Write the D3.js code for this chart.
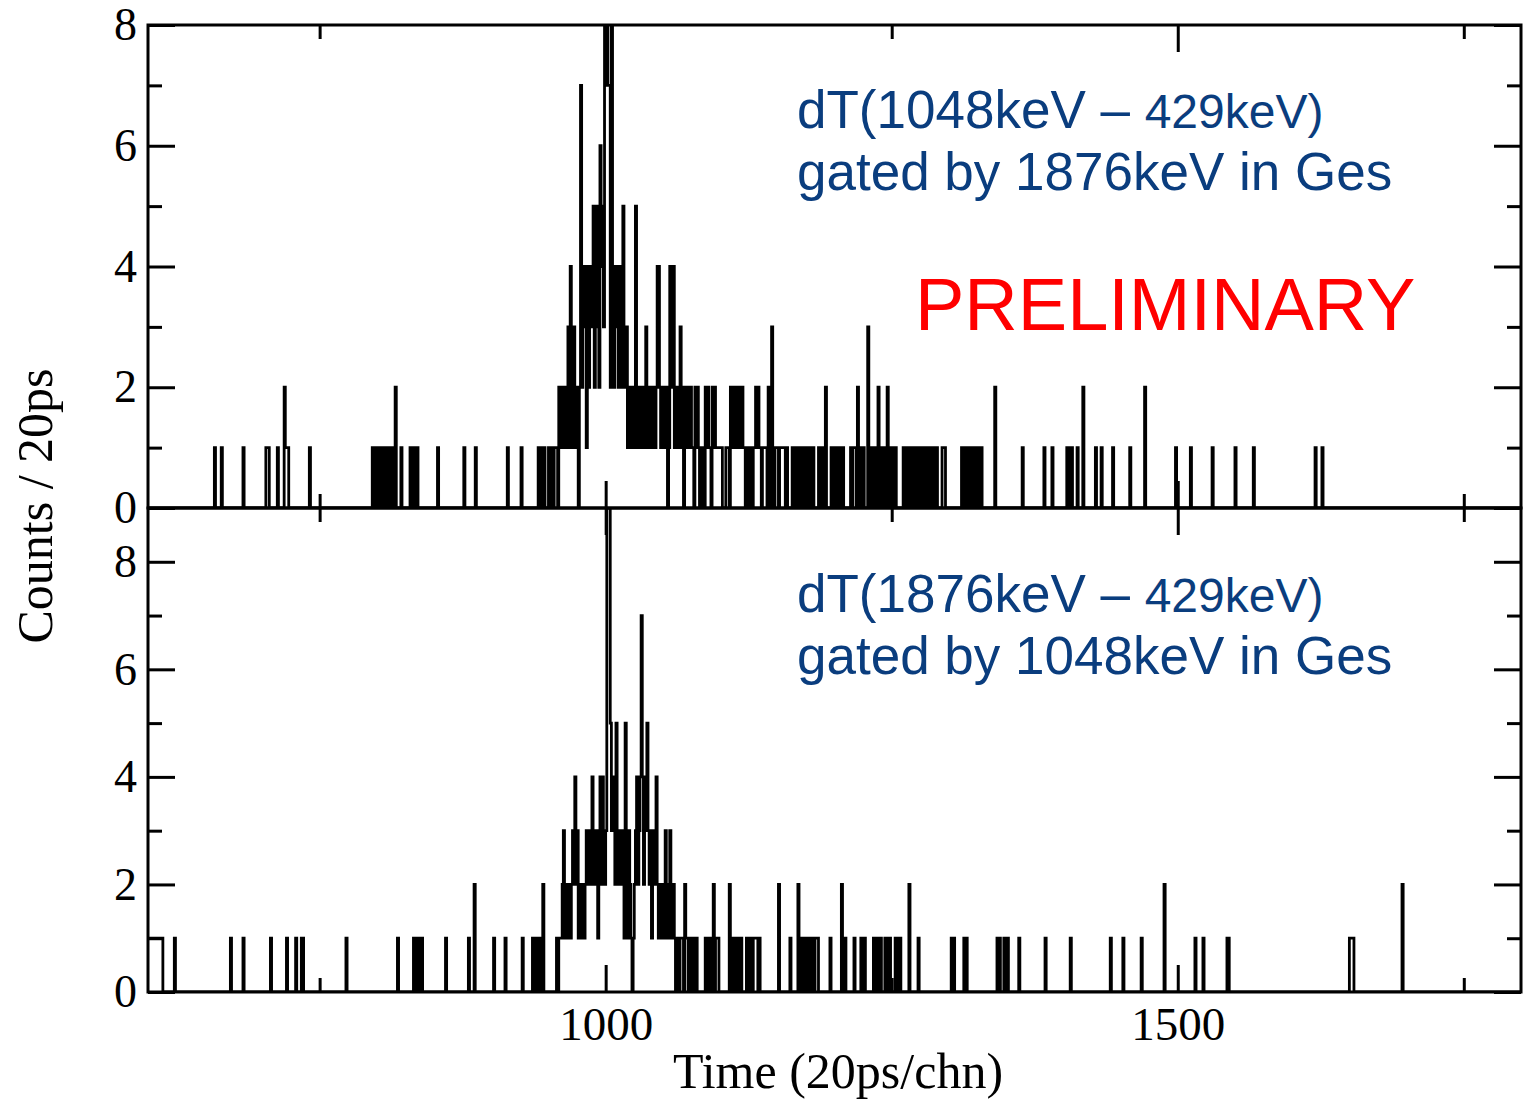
<!DOCTYPE html>
<html><head><meta charset="utf-8">
<script src="https://cdn.jsdelivr.net/npm/d3@7"></script>
<style>body{margin:0;background:#fff}</style>
</head><body>
<svg id="chart" width="1523" height="1100"></svg>
<script>
// ---------------- DATA ----------------
const xDomain = [600, 1800];
const topYDomain = [0, 8];
const bottomYDomain = [0, 9];
const xMajorTicks = [1000, 1500];
const xMinorTicks = [750, 1250, 1750];
const yMajorTicks = [0, 2, 4, 6, 8];
const yMinorTicks = [1, 3, 5, 7];

// Top panel: dT(1048keV - 429keV) gated by 1876keV — dense peak region from channel 943
const topPeakStart = 943;
const topPeakCounts = [
  1,1,0,1,0,0,0,1,0,1,
  1,0,1,1,1,0,2,1,2,1,
  2,1,2,1,3,1,4,2,1,3,
  2,1,2,0,2,7,2,4,3,4,
  1,4,2,3,4,3,5,2,5,3,
  5,2,6,4,5,3,9,7,9,7,
  7,2,9,4,2,4,3,4,2,4,
  3,2,5,2,3,3,1,2,1,2,
  1,2,1,5,2,1,2,1,2,1,
  2,1,3,2,1,2,1,2,1,2,
  1,2,4,4,2,1,2,1,2,1,
  2,0,1,4,4,2,4,1,2,1,
  2,1,3,1,2,0,2,1,2,1,
  1,2,1,1,0,2,1,2,1,0,1,1
];
// Top panel: isolated channels [channel, counts]
const topOther = [
  [658,1],[664,1],[683,1],[703,1],[704,1],[705,1],[713,1],[719,2],[720,1],[721,1],[722,1],[741,1],
  [796,1],[797,1],[799,1],[800,1],[802,1],[804,1],[805,1],[807,1],[809,1],[810,1],[812,1],[813,1],
  [815,1],[816,2],[821,1],[829,1],[830,1],[832,1],[834,1],[835,1],[853,1],[876,1],[886,1],[914,1],[926,1],[941,1],
  [1087,2],[1088,1],[1089,2],[1090,1],[1091,1],[1093,2],[1094,1],[1095,2],[1096,1],[1097,1],[1098,1],[1099,1],
  [1100,1],[1101,1],[1105,1],[1106,1],[1107,1],[1109,2],[1110,1],[1111,2],[1112,1],[1113,2],[1114,1],[1115,2],
  [1116,1],[1117,2],[1118,1],[1119,2],[1120,1],[1121,1],[1124,1],[1126,1],[1127,1],[1129,1],[1130,1],[1131,2],
  [1132,1],[1133,2],[1134,1],[1135,1],[1137,1],[1138,1],[1139,1],[1140,1],[1142,2],[1143,1],[1145,3],[1146,1],
  [1148,1],[1149,1],[1150,1],[1152,1],[1153,1],[1154,1],[1155,1],[1156,1],[1158,1],
  [1163,1],[1165,1],[1166,1],[1168,1],[1170,1],[1172,1],[1173,1],[1175,1],[1177,1],[1179,1],[1181,1],
  [1186,1],[1187,1],[1189,1],[1190,1],[1192,2],[1197,1],[1199,1],[1200,1],[1202,1],[1204,1],[1205,1],[1207,1],
  [1214,1],[1216,1],[1217,1],[1218,1],[1220,2],[1222,1],[1223,1],[1225,1],[1229,3],[1231,1],[1233,1],[1234,1],
  [1236,1],[1238,2],[1240,1],[1241,1],[1243,1],[1246,2],[1248,1],[1249,1],[1251,1],[1253,1],
  [1260,1],[1261,1],[1263,1],[1265,1],[1266,1],[1268,1],[1270,1],[1272,1],[1273,1],[1275,1],[1277,1],[1279,1],
  [1280,1],[1282,1],[1284,1],[1286,1],[1287,1],[1289,1],[1294,1],[1295,1],[1296,1],
  [1311,1],[1313,1],[1314,1],[1316,1],[1318,1],[1320,1],[1321,1],[1323,1],[1325,1],[1327,1],[1328,1],[1340,2],
  [1364,1],[1383,1],[1390,1],[1403,1],[1405,1],[1407,1],[1412,1],[1417,2],[1428,1],[1433,1],[1443,1],[1458,1],
  [1471,2],[1498,1],[1511,1],[1530,1],[1550,1],[1566,1],[1620,1],[1626,1]
];

// Bottom panel: dT(1876keV - 429keV) gated by 1048keV — dense peak region from channel 955
const bottomPeakStart = 955;
const bottomPeakCounts = [
  0,0,1,0,1,1,1,2,3,1,
  2,1,2,2,1,2,3,2,4,2,
  3,1,2,1,1,2,1,2,3,2,
  3,2,3,4,2,3,2,3,1,3,
  4,2,4,3,2,3,10,9,10,5,
  3,4,3,2,5,3,2,3,3,2,
  3,1,5,3,1,3,2,1,0,1,
  2,3,4,2,3,4,7,4,2,4,
  3,5,3,2,3,1,3,2,3,4,
  2,1,2,1,2,1,2,3,1,2,
  1,3,2,1,2,1,0,1,1,0,
  1,1,1,0,2,1,1,0,1,0,
  1,1,0,0,1,0
];
const bottomOther = [
  [600,1],[601,1],[602,1],[603,1],[604,1],[605,1],[606,1],[607,1],[608,1],[609,1],[610,1],[611,1],[612,1],
  [623,1],[672,1],[683,1],[707,1],[721,1],[729,1],[734,1],[735,1],[773,1],[818,1],[832,1],[834,1],[835,1],
  [837,1],[839,1],[860,1],[880,1],[885,2],[902,1],[912,1],[927,1],[936,1],[938,1],[940,1],[942,1],[943,1],[945,2],
  [1087,1],[1089,1],[1091,1],[1094,2],[1096,1],[1097,1],[1098,1],[1108,2],[1110,1],[1112,1],[1113,1],[1115,1],
  [1117,1],[1118,1],[1123,1],[1124,1],[1126,1],[1127,1],[1129,1],[1130,1],[1131,1],[1132,1],[1134,1],[1151,2],
  [1161,1],[1168,2],[1171,1],[1172,1],[1174,1],[1175,1],[1177,1],[1178,1],[1180,1],[1181,1],[1183,1],[1184,1],
  [1185,1],[1196,1],[1206,2],[1208,1],[1209,1],[1217,1],[1223,1],[1224,1],[1226,1],[1234,1],[1236,1],[1237,1],
  [1239,1],[1240,1],[1244,1],[1245,1],[1247,1],[1248,1],[1253,1],[1254,1],[1256,1],[1257,1],[1265,2],[1273,1],
  [1302,1],[1304,1],[1313,1],[1315,1],[1342,1],[1344,1],[1348,1],[1349,1],[1351,1],[1361,1],[1384,1],[1406,1],
  [1441,1],[1452,1],[1468,1],[1488,2],[1515,1],[1522,1],[1543,1],[1544,1],[1650,1],[1651,1],[1652,1],[1653,1],[1696,2]
];

const xTitle = "Time (20ps/chn)";
const yTitle = "Counts / 20ps";

// ---------------- DRAW ----------------
const svg = d3.select("#chart");
const L = 148, R = 1521, T = 25, MID = 508, B = 992;
const x = d3.scaleLinear().domain(xDomain).range([L, R]);
const serif = "'Liberation Serif','Times New Roman',Times,serif";
const sans = "'Liberation Sans',Arial,Helvetica,sans-serif";
const MAJ = 27, MIN = 14;

function buildSeries(start, dense, sparse) {
  const m = new Map(sparse.map(d => [d[0], d[1]]));
  dense.forEach((v, i) => m.set(start + i, v));
  const pts = [];
  for (let c = xDomain[0]; c < xDomain[1]; c++) pts.push([c, m.get(c) || 0]);
  pts.push([xDomain[1], pts[pts.length - 1][1]]);
  return pts;
}

function styleAxis(g) {
  g.select(".domain").remove();
  g.selectAll(".tick line").attr("stroke", "#000").attr("stroke-width", 3);
  g.selectAll(".tick text").attr("fill", "#000").style("font-family", serif).style("font-size", "46px");
}

function panel(id, yDomain, top, bottom, series, opts) {
  const y = d3.scaleLinear().domain(yDomain).range([bottom, top]);
  svg.append("clipPath").attr("id", "clip-" + id)
    .append("rect").attr("x", L).attr("y", top).attr("width", R - L).attr("height", bottom - top);
  const line = d3.line().x(d => x(d[0])).y(d => y(d[1])).curve(d3.curveStepAfter);
  svg.append("path").datum(series)
    .attr("clip-path", `url(#clip-${id})`)
    .attr("d", line).attr("fill", "none").attr("stroke", "#000").attr("stroke-width", 2.8);

  // y axes (inward ticks)
  svg.append("g").attr("transform", `translate(${L},0)`)
    .call(d3.axisLeft(y).tickValues(yMajorTicks).tickSize(-MAJ).tickPadding(11).tickFormat(d3.format("d")))
    .call(styleAxis);
  svg.append("g").attr("transform", `translate(${L},0)`)
    .call(d3.axisLeft(y).tickValues(yMinorTicks).tickSize(-MIN).tickFormat(""))
    .call(styleAxis);
  svg.append("g").attr("transform", `translate(${R},0)`)
    .call(d3.axisRight(y).tickValues(yMajorTicks).tickSize(-MAJ).tickFormat(""))
    .call(styleAxis);
  svg.append("g").attr("transform", `translate(${R},0)`)
    .call(d3.axisRight(y).tickValues(yMinorTicks).tickSize(-MIN).tickFormat(""))
    .call(styleAxis);

  // x axes (inward ticks)
  svg.append("g").attr("transform", `translate(0,${top})`)
    .call(d3.axisTop(x).tickValues(xMajorTicks).tickSize(-MAJ).tickFormat(""))
    .call(styleAxis);
  svg.append("g").attr("transform", `translate(0,${top})`)
    .call(d3.axisTop(x).tickValues(xMinorTicks).tickSize(-MIN).tickFormat(""))
    .call(styleAxis);
  svg.append("g").attr("transform", `translate(0,${bottom})`)
    .call(d3.axisBottom(x).tickValues(xMajorTicks).tickSize(-MAJ).tickPadding(15)
      .tickFormat(opts.xLabels ? d3.format("d") : ""))
    .call(styleAxis)
    .call(g => g.selectAll(".tick text").style("font-size", "47px"));
  svg.append("g").attr("transform", `translate(0,${bottom})`)
    .call(d3.axisBottom(x).tickValues(xMinorTicks).tickSize(-MIN).tickFormat(""))
    .call(styleAxis);

  // frame
  svg.append("rect").attr("x", L).attr("y", top).attr("width", R - L).attr("height", bottom - top)
    .attr("fill", "none").attr("stroke", "#000").attr("stroke-width", 3);
}

panel("top", topYDomain, T, MID, buildSeries(topPeakStart, topPeakCounts, topOther), { xLabels: false });
panel("bot", bottomYDomain, MID, B, buildSeries(bottomPeakStart, bottomPeakCounts, bottomOther), { xLabels: true });

// axis titles
svg.append("text").attr("x", 838).attr("y", 1088).attr("text-anchor", "middle")
  .style("font-family", serif).style("font-size", "50px").attr("fill", "#000").text(xTitle);
svg.append("text").attr("transform", "translate(52,506) rotate(-90)").attr("text-anchor", "middle")
  .style("font-family", serif).style("font-size", "50px").attr("fill", "#000").text(yTitle);

// annotations
const blue = "#0a3d7e";
function annot(yBase, a, b, line2) {
  const t = svg.append("text").attr("x", 797).attr("y", yBase)
    .style("font-family", sans).style("font-size", "53px").attr("fill", blue);
  t.append("tspan").text(a);
  t.append("tspan").style("font-size", "48px").text(b);
  svg.append("text").attr("x", 797).attr("y", yBase + 62)
    .style("font-family", sans).style("font-size", "53px").attr("fill", blue).text(line2);
}
annot(128, "dT(1048keV \u2013 ", "429keV)", "gated by 1876keV in Ges");
annot(612, "dT(1876keV \u2013 ", "429keV)", "gated by 1048keV in Ges");
svg.append("text").attr("x", 915).attr("y", 330)
  .style("font-family", sans).style("font-size", "74px").attr("fill", "#ff0000").text("PRELIMINARY");
</script>
</body></html>
